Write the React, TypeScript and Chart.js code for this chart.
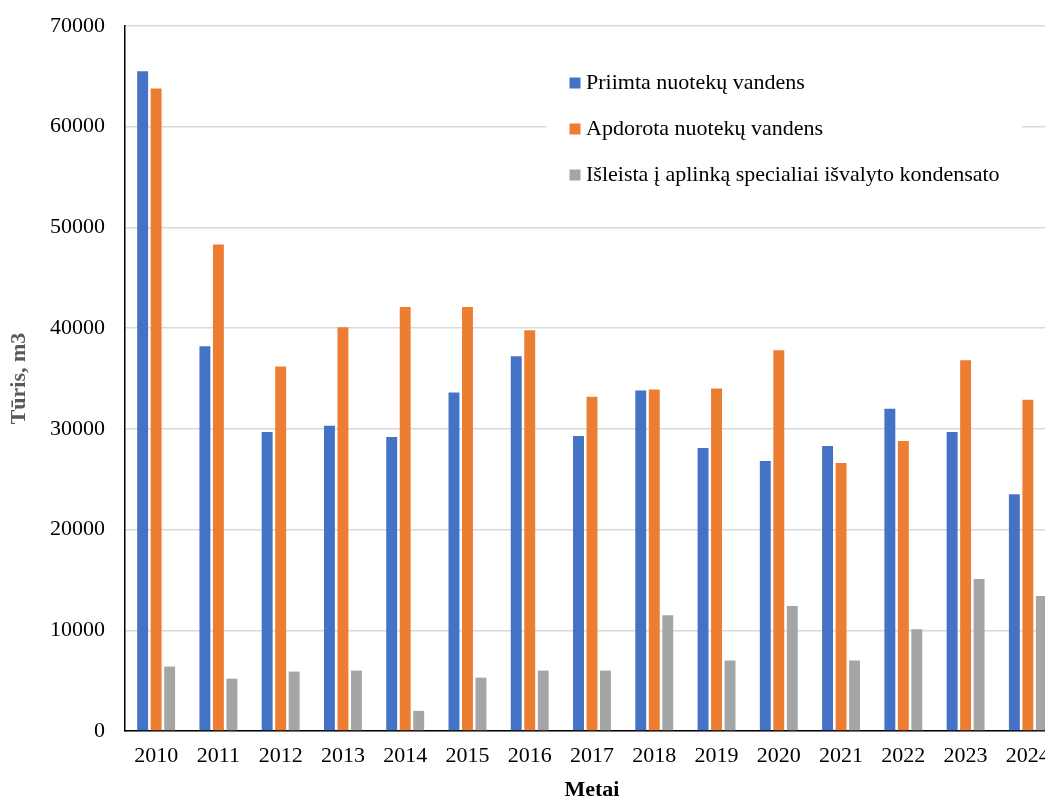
import React, { useEffect, useRef } from "react";
import { Chart, registerables } from "chart.js";

Chart.register(...registerables);

const years = ["2010", "2011", "2012", "2013", "2014", "2015", "2016", "2017", "2018", "2019", "2020", "2021", "2022", "2023", "2024"];
const priimta = [65500, 38200, 29700, 30300, 29200, 33600, 37200, 29300, 33800, 28100, 26800, 28300, 32000, 29700, 23500];
const apdorota = [63800, 48300, 36200, 40100, 42100, 42100, 39800, 33200, 33900, 34000, 37800, 26600, 28800, 36800, 32900];
const isleista = [6400, 5200, 5900, 6000, 2000, 5300, 6000, 6000, 11500, 7000, 12400, 7000, 10100, 15100, 13400];
const seriesNames = ["Priimta nuotekų vandens", "Apdorota nuotekų vandens", "Išleista į aplinką specialiai išvalyto kondensato"];
const seriesColors = ["#4472C4", "#ED7D31", "#A5A5A5"];
const yTicks = [0, 10000, 20000, 30000, 40000, 50000, 60000, 70000];

const FONT = "'Liberation Serif', 'Times New Roman', serif";

const legendPlugin = {
  id: "insideLegend",
  afterDraw(chart: any) {
    const ctx = chart.ctx;
    ctx.save();
    ctx.fillStyle = "#ffffff";
    ctx.fillRect(547, 57, 475, 142);
    ctx.font = `22px ${FONT}`;
    ctx.textBaseline = "middle";
    ctx.textAlign = "left";
    chart.data.datasets.forEach((ds: any, i: number) => {
      const cy = 83 + i * 46;
      ctx.fillStyle = ds.backgroundColor;
      ctx.fillRect(569.5, cy - 5.5, 11, 11);
      ctx.fillStyle = "#000000";
      ctx.fillText(ds.label, 586, cy);
    });
    ctx.restore();
  },
};

export default function App() {
  const ref = useRef<HTMLCanvasElement | null>(null);
  useEffect(() => {
    if (!ref.current) return;
    const chart = new Chart(ref.current, {
      type: "bar",
      data: {
        labels: years,
        datasets: [priimta, apdorota, isleista].map((d, i) => ({
          label: seriesNames[i],
          data: d,
          backgroundColor: seriesColors[i],
          borderWidth: 0,
          categoryPercentage: 0.65,
          barPercentage: 0.81,
        })),
      },
      options: {
        responsive: false,
        animation: false,
        devicePixelRatio: 1,
        layout: { padding: { top: 26, left: 0, right: 0, bottom: 0 } },
        plugins: { legend: { display: false }, tooltip: { enabled: false } },
        scales: {
          x: {
            grid: { display: false, drawTicks: false },
            border: { display: true, color: "#000000", width: 1.5 },
            ticks: { color: "#000000", font: { family: FONT, size: 22 }, padding: 12, maxRotation: 0, autoSkip: false },
            title: {
              display: true,
              text: "Metai",
              color: "#000000",
              font: { family: FONT, size: 22, weight: "bold", lineHeight: 0.73 },
              padding: { top: 0, bottom: 0 },
            },
            afterFit(scale: any) {
              scale.height = 67;
              scale.paddingLeft = 0;
              scale.paddingRight = 0;
            },
          },
          y: {
            min: 0,
            max: 70000,
            grid: { color: "#d9d9d9", lineWidth: 1.5, drawTicks: false },
            border: { display: true, color: "#000000", width: 1.5 },
            afterBuildTicks(scale: any) {
              scale.ticks = yTicks.map((v) => ({ value: v }));
            },
            ticks: {
              color: "#000000",
              font: { family: FONT, size: 22 },
              padding: 20,
              callback: (v: any) => String(v),
            },
            title: {
              display: true,
              text: "Tūris, m3",
              color: "#595959",
              font: { family: FONT, size: 22, weight: "bold", lineHeight: 1.2 },
              padding: { top: 6, bottom: 0 },
            },
            afterFit(scale: any) {
              scale.width = 125;
              scale.paddingTop = 0;
              scale.paddingBottom = 0;
            },
          },
        },
      },
      plugins: [legendPlugin],
    });
    return () => chart.destroy();
  }, []);
  return (
    <div style={{ position: "fixed", left: 0, top: 0, width: 1045, height: 798, overflow: "hidden", background: "#ffffff" }}>
      <canvas ref={ref} width={1059} height={798} style={{ display: "block", width: 1059, height: 798 }} />
    </div>
  );
}
